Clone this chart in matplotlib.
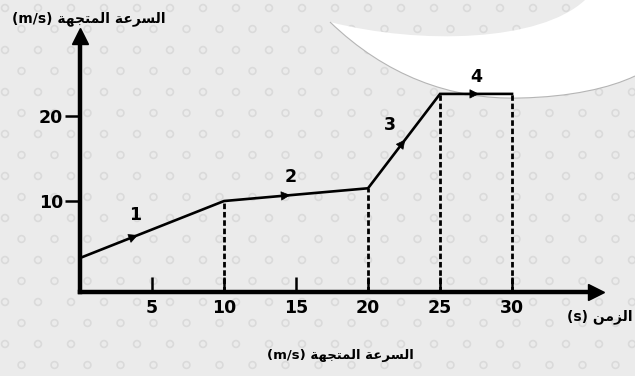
import numpy as np
import matplotlib
matplotlib.use('Agg')
import matplotlib.pyplot as plt
from matplotlib.path import Path
from matplotlib.patches import PathPatch

# values
t = [0, 10, 20, 25, 30]
v = [3.3, 10.0, 11.5, 22.6, 22.6]
xticks = [5, 10, 15, 20, 25, 30]
yticks = [10, 20]
dashed_at = [10, 20, 25, 30]
seg_labels = ['1', '2', '3', '4']
seg_arrow_x = [4.2, 14.8, 22.7, 27.9]
seg_label_xy = [(3.8, 8.4), (14.6, 12.8), (21.5, 18.9), (27.5, 24.6)]

# arabic text, pre-shaped (presentation forms, visual order)
w_sur = '\uFE8D\uFEDF\uFEB4\uFEAE\uFECB\uFE94'          # السرعة
w_mut = '\uFE8D\uFEDF\uFEE4\uFE98\uFEA0\uFEEC\uFE94'    # المتجهة
w_zam = '\uFE8D\uFEDF\uFEB0\uFEE3\uFEE6'                # الزمن
vel_label = '(m/s) ' + w_mut[::-1] + ' ' + w_sur[::-1]
time_label = '(s) ' + w_zam[::-1]

plt.rcParams['font.family'] = ['DejaVu Sans']
fig = plt.figure(figsize=(6.35, 3.76), dpi=100)
fig.patch.set_facecolor('#ebebeb')

# background texture + white crescent (figure pixels)
bg = fig.add_axes([0, 0, 1, 1])
bg.set_xlim(0, 635)
bg.set_ylim(376, 0)
bg.axis('off')
gx, gy = np.meshgrid(np.arange(5, 640, 33.0), np.arange(8, 380, 21.0))
gx = gx + (np.arange(gx.shape[0])[:, None] % 2) * 16.5
bg.scatter(gx.ravel(), gy.ravel(), s=24, facecolors='none',
           edgecolors='#dadada', linewidths=1.2)

C = Path.CURVE4
low_v = [(330, 22), (385, 75), (450, 100), (520, 98),
         (570, 97), (610, 88), (635, 76)]
low_c = [Path.MOVETO, C, C, C, C, C, C]
up_v = [(635, 0), (585, 0), (540, 42), (420, 45), (330, 22), (330, 22)]
up_c = [Path.LINETO, Path.LINETO, C, C, C, Path.CLOSEPOLY]
bg.add_patch(PathPatch(Path(low_v + up_v, low_c + up_c),
                       facecolor='white', edgecolor='none'))
bg.add_patch(PathPatch(Path(low_v, low_c), facecolor='none',
                       edgecolor='#b5b5b5', lw=0.8))

ax = fig.add_axes([80 / 635, 84 / 376, 516 / 635, 256 / 376])
ax.patch.set_alpha(0)
ax.set_xlim(0, 35.83)
ax.set_ylim(-0.7, 29.41)
for s in ['top', 'right']:
    ax.spines[s].set_visible(False)
for s in ['left', 'bottom']:
    ax.spines[s].set_linewidth(3.2)

ax.plot(1, -0.7, '>', color='k', ms=11, transform=ax.get_yaxis_transform(), clip_on=False)
ax.plot(0, 1, '^', color='k', ms=11, transform=ax.get_xaxis_transform(), clip_on=False)

ax.set_xticks(xticks)
ax.set_xticklabels([str(x) for x in xticks], fontweight='bold', fontsize=12.5)
ax.set_yticks(yticks)
ax.set_yticklabels([str(y) for y in yticks], fontweight='bold', fontsize=12.5)
ax.tick_params(axis='x', direction='in', length=11, width=1.8, pad=5)
ax.tick_params(axis='y', direction='out', length=11, width=1.8, pad=1)

ax.plot(t, v, color='k', lw=1.9, solid_joinstyle='miter')
for x in dashed_at:
    ax.plot([x, x], [-0.7, v[t.index(x)]], color='k', lw=2.0, dashes=(2.0, 1.0))

for i, xa in enumerate(seg_arrow_x):
    ya = np.interp(xa, t, v)
    xb = xa - 0.4
    yb = np.interp(xb, t, v)
    ax.annotate('', xy=(xa, ya), xytext=(xb, yb),
                arrowprops=dict(arrowstyle='-|>', color='k', lw=0.5, mutation_scale=15))
    lx, ly = seg_label_xy[i]
    ax.text(lx, ly, seg_labels[i], fontsize=12.5, fontweight='bold',
            ha='center', va='center')

fig.text(89 / 635, 1 - 19 / 376, vel_label, fontsize=10, fontweight='bold',
         ha='center', va='center')
fig.text(340 / 635, 1 - 355 / 376, vel_label, fontsize=9.5, fontweight='bold',
         ha='center', va='center')
fig.text(600 / 635, 1 - 317 / 376, time_label, fontsize=10, fontweight='bold',
         ha='center', va='center')

fig.savefig('out.png', dpi=100, facecolor=fig.get_facecolor())
